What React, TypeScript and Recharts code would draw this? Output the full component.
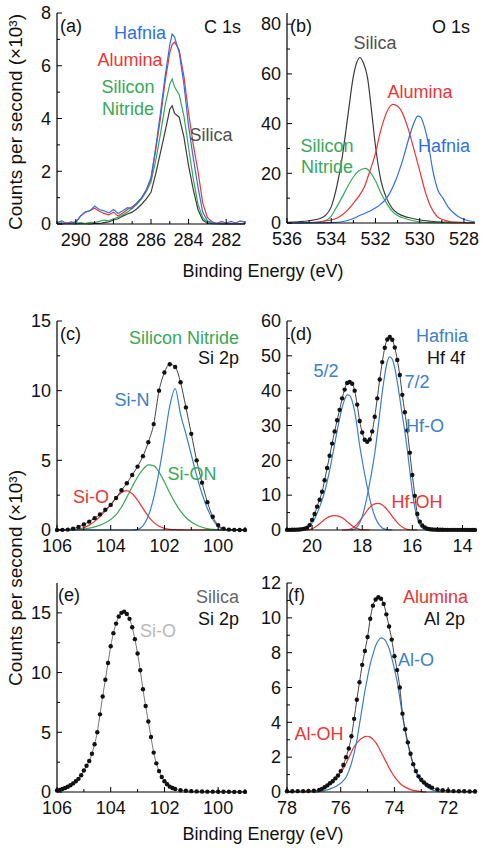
import { LineChart, Line, XAxis, YAxis } from 'recharts';

const FONT = '"Liberation Sans", Arial, Helvetica, sans-serif';
const BLUE = '#2f6fe3';
const FIT_BLUE = '#3b80c6';
const RED = '#eb3434';
const GREEN = '#37a857';
const DARK = '#3c3c3c';

type Pt = [number, number];

// ---- (a) C 1s : raw spectra on a shared energy grid ----
const c1sEnergy = [291, 290.75, 290.5, 290.25, 290, 289.75, 289.5, 289.25, 289, 288.75, 288.5, 288.25, 288, 287.75, 287.5, 287.25, 287, 286.75, 286.5, 286.25, 286, 285.75, 285.5, 285.25, 285, 284.875, 284.75, 284.5, 284.25, 284, 283.75, 283.5, 283.25, 283, 282.75, 282.5, 282.25, 282, 281.75, 281.5, 281.25, 281];
const c1sHafnia = [0.05, 0.12, 0.03, 0.08, 0.05, 0.3, 0.45, 0.5, 0.68, 0.55, 0.5, 0.42, 0.55, 0.4, 0.5, 0.62, 0.58, 0.8, 1.0, 1.3, 1.75, 2.9, 4.2, 5.6, 6.8, 7.2, 7.1, 6.5, 5.3, 3.7, 2.5, 1.4, 0.45, 0.12, 0.05, 0.02, 0.1, 0.03, 0.1, 0.04, 0.12, 0.06];
const c1sAlumina = [0.02, 0.0, 0.03, 0.02, 0.08, 0.3, 0.45, 0.5, 0.6, 0.48, 0.4, 0.35, 0.45, 0.3, 0.42, 0.55, 0.65, 0.8, 0.98, 1.28, 1.7, 2.8, 4.0, 5.4, 6.5, 6.8, 6.9, 6.6, 5.6, 4.2, 3.0, 2.0, 0.8, 0.25, 0.08, 0.03, 0.02, 0.02, 0.01, 0.02, 0.01, 0.02];
const c1sNitride = [0.02, 0.05, 0.02, 0.04, 0.03, 0.05, 0.02, 0.06, 0.05, 0.1, 0.15, 0.12, 0.2, 0.25, 0.35, 0.45, 0.6, 0.75, 0.95, 1.22, 1.6, 2.4, 3.4, 4.5, 5.3, 5.5, 5.2, 4.9, 4.1, 2.9, 1.7, 0.75, 0.25, 0.06, 0.02, 0.01, 0.02, 0.01, 0.02, 0.01, 0.02, 0.01];
const c1sSilica = [0.01, 0.0, 0.02, 0.01, 0.0, 0.02, 0.01, 0.0, 0.02, 0.02, 0.05, 0.08, 0.15, 0.2, 0.3, 0.38, 0.45, 0.58, 0.75, 0.95, 1.2, 1.9, 2.7, 3.5, 4.35, 4.48, 4.2, 4.05, 3.3, 2.2, 1.3, 0.55, 0.15, 0.03, 0.01, 0.01, 0.0, 0.01, 0.0, 0.01, 0.0, 0.01];

// ---- (b) O 1s ----
const o1sSilica: Pt[] = [[536, 0.3], [535.5, 0.5], [535, 0.9], [534.5, 1.8], [534.25, 3.2], [534, 6.5], [533.75, 14.6], [533.5, 26.7], [533.25, 43], [533, 59], [532.85, 64.5], [532.7, 66.6], [532.55, 64.5], [532.35, 58], [532.2, 47], [532, 31], [531.75, 17], [531.5, 10], [531.25, 6], [531, 3.9], [530.5, 2.2], [530, 1.2], [529.5, 0.7], [529, 0.4], [528.5, 0.3], [528, 0.2], [527.5, 0.1]];
const o1sNitride: Pt[] = [[536, 0], [535, 0.1], [534.5, 0.4], [534.2, 1.2], [534, 2.8], [533.75, 6.5], [533.5, 10.5], [533.25, 14.8], [533, 18.5], [532.75, 21], [532.45, 22], [532.2, 20], [532, 17], [531.75, 12], [531.5, 8], [531.25, 4.8], [531, 3], [530.7, 1.9], [530.25, 0.8], [529.8, 0.3], [529, 0.1], [527.5, 0]];
const o1sAlumina: Pt[] = [[536, 0.1], [535, 0.2], [534.5, 0.5], [534, 1.2], [533.75, 1.9], [533.5, 3.3], [533.25, 5.3], [533, 7.9], [532.75, 10.8], [532.5, 14.6], [532.25, 21], [532, 28], [531.8, 36], [531.6, 42], [531.45, 45.4], [531.2, 47.7], [531, 47], [530.85, 45.4], [530.55, 38.7], [530.25, 29.3], [530, 21], [529.75, 12.6], [529.5, 6.5], [529.2, 2.5], [528.9, 1.2], [528.6, 0.5], [528, 0.2], [527.5, 0.1]];
const o1sHafnia: Pt[] = [[536, 0], [535, 0.05], [534, 0.15], [533.5, 0.5], [533, 1.8], [532.67, 3.2], [532.25, 4.8], [531.9, 6.6], [531.45, 10.6], [531.08, 17.3], [530.77, 25.3], [530.47, 34.7], [530.24, 40.7], [530.09, 43], [529.95, 42.5], [529.86, 40.7], [529.64, 33.4], [529.41, 21.3], [529.18, 13.3], [528.95, 10], [528.73, 6.6], [528.4, 3.5], [528.12, 1.9], [527.8, 0.9], [527.5, 0.4]];

// ---- (c) Si 2p, silicon nitride ----
const si3nEnergy = [106, 105.8, 105.6, 105.4, 105.2, 105, 104.8, 104.6, 104.4, 104.2, 104, 103.8, 103.6, 103.4, 103.2, 103, 102.8, 102.6, 102.4, 102.2, 102, 101.8, 101.6, 101.4, 101.2, 101, 100.8, 100.6, 100.4, 100.2, 100, 99.8, 99.6, 99.4, 99.2, 99];
const si3nData = [0, 0.01, 0.03, 0.1, 0.22, 0.4, 0.6, 0.85, 1.12, 1.45, 1.8, 2.3, 2.85, 3.35, 3.95, 4.55, 5.3, 6.3, 7.6, 10.0, 11.3, 11.9, 11.7, 10.6, 8.8, 6.9, 5.0, 3.4, 2.0, 0.95, 0.35, 0.1, 0.03, 0.01, 0, 0];
const si3nSiN = [0, 0, 0, 0, 0, 0, 0, 0, 0, 0, 0, 0, 0, 0, 0, 0.05, 0.3, 1.0, 2.3, 4.2, 6.5, 8.9, 10.15, 8.3, 6.9, 5.4, 3.9, 2.6, 1.55, 0.75, 0.25, 0.06, 0.01, 0, 0, 0];
const si3nSiON = [0, 0, 0.01, 0.02, 0.04, 0.07, 0.13, 0.22, 0.35, 0.52, 0.75, 1.1, 1.65, 2.35, 3.1, 3.8, 4.35, 4.68, 4.62, 4.15, 3.45, 2.65, 1.95, 1.35, 0.9, 0.58, 0.36, 0.2, 0.1, 0.04, 0.01, 0, 0, 0, 0, 0];
const si3nSiO = [0, 0, 0.01, 0.03, 0.07, 0.16, 0.35, 0.62, 0.97, 1.38, 1.82, 2.3, 2.7, 2.82, 2.6, 2.15, 1.55, 0.98, 0.55, 0.27, 0.12, 0.05, 0.02, 0.01, 0, 0, 0, 0, 0, 0, 0, 0, 0, 0, 0, 0];

// ---- (d) Hf 4f, hafnia ----
const hfEnergy = [21, 20.9, 20.8, 20.7, 20.6, 20.5, 20.4, 20.3, 20.2, 20.1, 20, 19.9, 19.8, 19.7, 19.6, 19.5, 19.4, 19.3, 19.2, 19.1, 19, 18.9, 18.8, 18.7, 18.6, 18.5, 18.4, 18.3, 18.2, 18.1, 18, 17.9, 17.8, 17.7, 17.6, 17.5, 17.4, 17.3, 17.2, 17.1, 17, 16.9, 16.8, 16.7, 16.6, 16.5, 16.4, 16.3, 16.2, 16.1, 16, 15.9, 15.8, 15.7, 15.6, 15.5, 15.4, 15.3, 15.2, 15.1, 15, 14.9, 14.8, 14.7, 14.6, 14.5, 14.4, 14.3, 14.2, 14.1, 14, 13.9, 13.8, 13.7, 13.6, 13.5];
const hfData = [0.05, 0.05, 0.06, 0.08, 0.1, 0.15, 0.25, 0.4, 0.65, 1.4, 2.9, 4.6, 6.7, 8.7, 11.0, 14.3, 17.8, 21.3, 24.8, 28.3, 31.5, 34.5, 37.8, 40.3, 42.2, 42.5, 42.0, 40.0, 36.0, 31.3, 28.0, 25.9, 25.3, 26.0, 28.3, 32.5, 37.8, 43.2, 48.2, 52.3, 54.7, 55.4, 54.6, 52.4, 48.8, 44.5, 38.8, 33.8, 28.6, 22.2, 15.8, 9.8, 4.6, 2.4, 1.3, 0.7, 0.38, 0.22, 0.14, 0.1, 0.08, 0.07, 0.06, 0.05, 0.05, 0.05, 0.04, 0.04, 0.04, 0.04, 0.04, 0.04, 0.03, 0.03, 0.03, 0.03];
const hf52: Pt[] = [[20.6, 0], [20.5, 0.05], [20.4, 0.1], [20.3, 0.25], [20.2, 0.55], [20.1, 1.1], [20, 2.0], [19.9, 3.2], [19.8, 4.8], [19.7, 6.6], [19.6, 8.6], [19.5, 10.9], [19.4, 13.8], [19.3, 17.1], [19.2, 20.8], [19.1, 24.6], [19, 28.5], [18.9, 32.0], [18.8, 35.2], [18.7, 37.5], [18.6, 38.8], [18.5, 38.6], [18.4, 37.0], [18.3, 34.0], [18.2, 29.5], [18.1, 24.2], [18, 20.0], [17.9, 16.0], [17.8, 12.4], [17.7, 9.0], [17.6, 6.2], [17.5, 4.0], [17.4, 2.4], [17.3, 1.3], [17.2, 0.6], [17.1, 0.25], [17, 0.08], [16.9, 0.02], [16.8, 0]];
const hf72: Pt[] = [[18.5, 0], [18.4, 0.05], [18.3, 0.3], [18.2, 0.9], [18.1, 2.0], [18, 3.8], [17.9, 6.5], [17.8, 9.8], [17.7, 13.5], [17.6, 17.5], [17.5, 22.0], [17.4, 27.5], [17.3, 33.5], [17.2, 39.5], [17.1, 44.5], [17, 48.3], [16.9, 49.7], [16.8, 49.0], [16.7, 46.5], [16.6, 42.5], [16.5, 37.8], [16.4, 33.0], [16.3, 28.3], [16.2, 23.0], [16.1, 17.0], [16, 11.0], [15.9, 6.5], [15.8, 3.3], [15.7, 1.5], [15.6, 0.6], [15.5, 0.2], [15.4, 0.05], [15.3, 0]];
const hfOH52: Pt[] = [[20.4, 0], [20.2, 0.05], [20.1, 0.15], [20, 0.35], [19.9, 0.7], [19.8, 1.2], [19.7, 1.8], [19.6, 2.4], [19.5, 3.0], [19.4, 3.5], [19.3, 3.85], [19.2, 4.05], [19.1, 4.1], [19, 4.05], [18.9, 3.85], [18.8, 3.5], [18.7, 3.0], [18.6, 2.4], [18.5, 1.8], [18.4, 1.2], [18.3, 0.75], [18.2, 0.4], [18.1, 0.2], [18, 0.08], [17.9, 0.02], [17.7, 0]];
const hfOH72: Pt[] = [[18.8, 0], [18.6, 0.05], [18.5, 0.2], [18.4, 0.5], [18.3, 1.0], [18.2, 1.7], [18.1, 2.6], [18, 3.6], [17.9, 4.6], [17.8, 5.6], [17.7, 6.5], [17.6, 7.1], [17.5, 7.5], [17.4, 7.65], [17.3, 7.55], [17.2, 7.2], [17.1, 6.6], [17, 5.8], [16.9, 4.9], [16.8, 3.9], [16.7, 3.0], [16.6, 2.1], [16.5, 1.4], [16.4, 0.85], [16.3, 0.45], [16.2, 0.2], [16.1, 0.07], [16, 0.02], [15.8, 0]];

// ---- (e) Si 2p, silica ----
const sio2Data: Pt[] = [[106, 0.12], [105.9, 0.18], [105.8, 0.25], [105.7, 0.33], [105.6, 0.44], [105.5, 0.57], [105.4, 0.72], [105.3, 0.9], [105.2, 1.1], [105.1, 1.4], [105, 1.8], [104.9, 2.2], [104.8, 2.6], [104.7, 3.2], [104.6, 4.0], [104.5, 5.0], [104.4, 6.5], [104.3, 8.0], [104.2, 9.4], [104.1, 10.8], [104, 12.2], [103.9, 13.3], [103.8, 14.1], [103.7, 14.7], [103.6, 15.0], [103.5, 15.1], [103.4, 14.9], [103.3, 14.5], [103.2, 13.8], [103.1, 12.8], [103, 11.6], [102.9, 10.2], [102.8, 8.6], [102.7, 7.2], [102.6, 5.9], [102.5, 4.6], [102.4, 3.3], [102.3, 2.4], [102.2, 1.75], [102.1, 1.25], [102, 0.9], [101.9, 0.65], [101.8, 0.45], [101.7, 0.33], [101.6, 0.25], [101.4, 0.15], [101.2, 0.1], [101, 0.07], [100.8, 0.05], [100.6, 0.04], [100.4, 0.03], [100.2, 0.03], [100, 0.02], [99.8, 0.02], [99.6, 0.02], [99.4, 0.01], [99.2, 0.01], [99, 0.01]];

// ---- (f) Al 2p, alumina ----
const al2o3Data: Pt[] = [[78, 0.04], [77.8, 0.04], [77.6, 0.05], [77.4, 0.05], [77.2, 0.06], [77, 0.07], [76.8, 0.12], [76.7, 0.18], [76.6, 0.27], [76.5, 0.38], [76.4, 0.5], [76.3, 0.62], [76.2, 0.78], [76.1, 0.95], [76, 1.2], [75.9, 1.55], [75.8, 2.0], [75.7, 2.5], [75.6, 3.2], [75.5, 4.2], [75.4, 5.3], [75.3, 6.3], [75.2, 7.3], [75.1, 8.1], [75, 8.9], [74.9, 9.95], [74.8, 10.7], [74.7, 11.05], [74.6, 11.18], [74.5, 11.1], [74.4, 10.8], [74.3, 10.2], [74.2, 9.5], [74.1, 8.75], [74, 7.8], [73.9, 7.0], [73.8, 6.0], [73.7, 4.5], [73.6, 3.6], [73.5, 2.85], [73.4, 2.2], [73.3, 1.6], [73.2, 1.2], [73.1, 0.9], [73, 0.7], [72.9, 0.55], [72.8, 0.42], [72.7, 0.33], [72.6, 0.25], [72.4, 0.15], [72.2, 0.1], [72, 0.07], [71.8, 0.05], [71.6, 0.04], [71.4, 0.04], [71.2, 0.03], [71, 0.03]];
const alO: Pt[] = [[77, 0], [76.8, 0.02], [76.7, 0.05], [76.6, 0.08], [76.5, 0.12], [76.4, 0.18], [76.3, 0.24], [76.2, 0.3], [76.1, 0.4], [76, 0.5], [75.9, 0.65], [75.8, 0.85], [75.7, 1.2], [75.6, 1.65], [75.5, 2.25], [75.4, 2.95], [75.3, 3.9], [75.2, 4.85], [75.1, 5.8], [75, 6.6], [74.9, 7.35], [74.8, 7.9], [74.7, 8.4], [74.6, 8.7], [74.5, 8.85], [74.4, 8.8], [74.3, 8.6], [74.2, 8.25], [74.1, 7.7], [74, 7.05], [73.9, 6.35], [73.8, 5.4], [73.7, 4.4], [73.6, 3.5], [73.5, 2.75], [73.4, 2.1], [73.3, 1.6], [73.2, 1.15], [73.1, 0.8], [73, 0.6], [72.9, 0.45], [72.8, 0.3], [72.7, 0.2], [72.6, 0.12], [72.5, 0.07], [72.4, 0.04], [72.2, 0]];
const alOH: Pt[] = [[77.4, 0], [77, 0.05], [76.8, 0.12], [76.6, 0.3], [76.4, 0.5], [76.3, 0.62], [76.2, 0.77], [76.1, 0.93], [76, 1.12], [75.9, 1.35], [75.8, 1.65], [75.7, 1.98], [75.6, 2.3], [75.5, 2.6], [75.4, 2.8], [75.3, 2.98], [75.2, 3.1], [75.1, 3.18], [75, 3.2], [74.9, 3.15], [74.8, 3.02], [74.7, 2.85], [74.6, 2.6], [74.5, 2.3], [74.4, 2.0], [74.3, 1.7], [74.2, 1.4], [74.1, 1.12], [74, 0.88], [73.9, 0.68], [73.8, 0.5], [73.6, 0.28], [73.4, 0.14], [73.2, 0.06], [73, 0.02], [72.8, 0]];

// ---- ticks ----
const c1sMajor = [290, 288, 286, 284, 282];
const c1sMinor = [291, 289, 287, 285, 283, 281];
const o1sMajor = [536, 534, 532, 530, 528];
const o1sMinor = [535, 533, 531, 529];
const si2pMajor = [106, 104, 102, 100];
const si2pMinor = [105, 103, 101, 99];
const hfMajor = [20, 18, 16, 14];
const hfMinor = [21, 19, 17, 15];
const alMajor = [78, 76, 74, 72];
const alMinor = [77, 75, 73, 71];

const yA = [0, 2, 4, 6, 8];
const yAMinor = [1, 3, 5, 7];
const yB = [0, 20, 40, 60, 80];
const yBMinor = [10, 30, 50, 70];
const yC = [0, 5, 10, 15];
const yCMinor = [2.5, 7.5, 12.5];
const yD = [0, 10, 20, 30, 40, 50, 60];
const yDMinor = [5, 15, 25, 35, 45, 55];
const yF = [0, 2, 4, 6, 8, 10, 12];
const yFMinor = [1, 3, 5, 7, 9, 11];

const zip = (xs: number[], ys: number[]) => xs.map((x, i) => ({ x, y: ys[i] }));
const rows = (pts: Pt[]) => pts.map(([x, y]) => ({ x, y }));

type Side = 'bottom' | 'top' | 'left' | 'right';
type TickArgs = { x?: number; y?: number; payload?: { value: number } };

function makeTick(side: Side, majors: number[]) {
  return (p: TickArgs) => {
    const x = p.x ?? 0;
    const y = p.y ?? 0;
    const v = p.payload?.value ?? 0;
    const major = majors.includes(v);
    const len = major ? 5 : 3;
    let l = { x2: x, y2: y };
    if (side === 'bottom') l = { x2: x, y2: y - len };
    if (side === 'top') l = { x2: x, y2: y + len };
    if (side === 'left') l = { x2: x + len, y2: y };
    if (side === 'right') l = { x2: x - len, y2: y };
    return (
      <g>
        <line x1={x} y1={y} x2={l.x2} y2={l.y2} stroke="#000" strokeWidth={1} />
        {major && side === 'bottom' && (
          <text x={x} y={y + 22} textAnchor="middle" fontSize={18} fontFamily={FONT} fill="#111">{v}</text>
        )}
        {major && side === 'left' && (
          <text x={x - 6} y={y + 6.3} textAnchor="end" fontSize={18} fontFamily={FONT} fill="#111">{v}</text>
        )}
      </g>
    );
  };
}

type Series = { id: string; data: { x: number; y: number }[]; color: string; width?: number; dots?: boolean; curve?: 'linear' | 'monotone' };

type PanelProps = {
  left: number; top: number; w: number; h: number;
  xDomain: [number, number]; xMajor: number[]; xMinor: number[];
  yDomain: [number, number]; yMajor: number[]; yMinor: number[];
  series: Series[];
};

const AXIS = { stroke: '#000', strokeWidth: 1.2 };
const PAD_TOP = 12;

function Panel({ left, top, w, h, xDomain, xMajor, xMinor, yDomain, yMajor, yMinor, series }: PanelProps) {
  const xTicks = [...xMajor, ...xMinor];
  const yTicks = [...yMajor, ...yMinor];
  return (
    <div style={{ position: 'absolute', left: left - 50, top: top - PAD_TOP }}>
      <LineChart width={w + 60} height={h + PAD_TOP + 35} margin={{ top: PAD_TOP, right: 10, bottom: 0, left: 0 }}>
        <XAxis xAxisId="b" type="number" dataKey="x" domain={xDomain} reversed ticks={xTicks} interval={0}
          height={35} tickSize={0} tickMargin={0} tickLine={false} axisLine={AXIS} tick={makeTick('bottom', xMajor)} />
        <XAxis xAxisId="t" orientation="top" type="number" dataKey="x" domain={xDomain} reversed ticks={xTicks} interval={0}
          height={0} tickSize={0} tickMargin={0} tickLine={false} axisLine={AXIS} tick={makeTick('top', xMajor)} />
        <YAxis yAxisId="l" type="number" domain={yDomain} ticks={yTicks} interval={0}
          width={50} tickSize={0} tickMargin={0} tickLine={false} axisLine={AXIS} tick={makeTick('left', yMajor)} />
        <YAxis yAxisId="r" orientation="right" type="number" domain={yDomain} ticks={yTicks} interval={0}
          width={0} tickSize={0} tickMargin={0} tickLine={false} axisLine={AXIS} tick={makeTick('right', yMajor)} />
        {series.map((s) => (
          <Line key={s.id} xAxisId="b" yAxisId="l" data={s.data} dataKey="y" type={s.curve ?? 'monotone'}
            stroke={s.color} strokeWidth={s.width ?? 1.2}
            dot={s.dots ? { r: 2.2, fill: '#111', stroke: 'none' } : false}
            activeDot={false} isAnimationActive={false} />
        ))}
      </LineChart>
    </div>
  );
}

const COL1 = 57;
const COL2 = 287;
const PW = 188;
const ROW1 = 13;
const ROW2 = 321;
const ROW3 = 583;

type Note = { t: string; x: number; y: number; c: string; a?: 'start' | 'middle' | 'end' };

const notes: Note[] = [
  { t: '(a)', x: 60, y: 32, c: '#111', a: 'start' },
  { t: 'C 1s', x: 241, y: 33, c: '#111', a: 'end' },
  { t: 'Hafnia', x: 140, y: 39, c: BLUE },
  { t: 'Alumina', x: 130, y: 66, c: RED },
  { t: 'Silicon', x: 128, y: 93, c: GREEN },
  { t: 'Nitride', x: 128, y: 115, c: GREEN },
  { t: 'Silica', x: 211, y: 141, c: '#505050' },
  { t: '(b)', x: 290, y: 32, c: '#111', a: 'start' },
  { t: 'O 1s', x: 470, y: 33, c: '#111', a: 'end' },
  { t: 'Silica', x: 375, y: 49, c: '#505050' },
  { t: 'Alumina', x: 420, y: 98, c: RED },
  { t: 'Hafnia', x: 444, y: 152, c: BLUE },
  { t: 'Silicon', x: 327, y: 152, c: GREEN },
  { t: 'Nitride', x: 327, y: 173, c: GREEN },
  { t: '(c)', x: 60, y: 340, c: '#111', a: 'start' },
  { t: 'Silicon Nitride', x: 239, y: 344, c: GREEN, a: 'end' },
  { t: 'Si 2p', x: 239, y: 364, c: '#111', a: 'end' },
  { t: 'Si-N', x: 132, y: 406, c: FIT_BLUE },
  { t: 'Si-ON', x: 192, y: 480, c: GREEN },
  { t: 'Si-O', x: 91, y: 503, c: RED },
  { t: '(d)', x: 290, y: 340, c: '#111', a: 'start' },
  { t: 'Hafnia', x: 468, y: 342, c: FIT_BLUE, a: 'end' },
  { t: 'Hf 4f', x: 465, y: 364, c: '#111', a: 'end' },
  { t: '5/2', x: 326, y: 377, c: FIT_BLUE },
  { t: '7/2', x: 417, y: 388, c: FIT_BLUE },
  { t: 'Hf-O', x: 425, y: 432, c: FIT_BLUE },
  { t: 'Hf-OH', x: 417, y: 508, c: RED },
  { t: '(e)', x: 58, y: 601, c: '#111', a: 'start' },
  { t: 'Silica', x: 239, y: 603, c: '#666', a: 'end' },
  { t: 'Si 2p', x: 239, y: 625, c: '#111', a: 'end' },
  { t: 'Si-O', x: 158, y: 637, c: '#b8b8b8' },
  { t: '(f)', x: 288, y: 601, c: '#111', a: 'start' },
  { t: 'Alumina', x: 468, y: 603, c: RED, a: 'end' },
  { t: 'Al 2p', x: 465, y: 625, c: '#111', a: 'end' },
  { t: 'Al-O', x: 416, y: 666, c: FIT_BLUE },
  { t: 'Al-OH', x: 319, y: 740, c: RED },
];

export default function App() {
  return (
    <div style={{ position: 'absolute', left: 0, top: 0, width: 483, height: 853, background: '#fff', overflow: 'hidden' }}>
      <Panel left={COL1} top={ROW1} w={PW} h={211} xDomain={[281, 291]} xMajor={c1sMajor} xMinor={c1sMinor}
        yDomain={[0, 8]} yMajor={yA} yMinor={yAMinor}
        series={[
          { id: 'si', data: zip(c1sEnergy, c1sSilica), color: DARK, curve: 'linear' },
          { id: 'sn', data: zip(c1sEnergy, c1sNitride), color: GREEN, curve: 'linear' },
          { id: 'al', data: zip(c1sEnergy, c1sAlumina), color: RED, curve: 'linear' },
          { id: 'hf', data: zip(c1sEnergy, c1sHafnia), color: BLUE, curve: 'linear' },
        ]} />
      <Panel left={COL2} top={ROW1} w={PW} h={210} xDomain={[527.5, 536]} xMajor={o1sMajor} xMinor={o1sMinor}
        yDomain={[0, 84.5]} yMajor={yB} yMinor={yBMinor}
        series={[
          { id: 'si', data: rows(o1sSilica), color: DARK },
          { id: 'sn', data: rows(o1sNitride), color: GREEN },
          { id: 'al', data: rows(o1sAlumina), color: RED },
          { id: 'hf', data: rows(o1sHafnia), color: BLUE },
        ]} />
      <Panel left={COL1} top={ROW2} w={PW} h={209} xDomain={[99, 106]} xMajor={si2pMajor} xMinor={si2pMinor}
        yDomain={[0, 15]} yMajor={yC} yMinor={yCMinor}
        series={[
          { id: 'sio', data: zip(si3nEnergy, si3nSiO), color: RED },
          { id: 'sion', data: zip(si3nEnergy, si3nSiON), color: GREEN },
          { id: 'sin', data: zip(si3nEnergy, si3nSiN), color: FIT_BLUE },
          { id: 'data', data: zip(si3nEnergy, si3nData), color: '#444', width: 1, dots: true },
        ]} />
      <Panel left={COL2} top={ROW2} w={PW} h={209} xDomain={[13.5, 21]} xMajor={hfMajor} xMinor={hfMinor}
        yDomain={[0, 60]} yMajor={yD} yMinor={yDMinor}
        series={[
          { id: 'oh52', data: rows(hfOH52), color: RED },
          { id: 'oh72', data: rows(hfOH72), color: RED },
          { id: 'o52', data: rows(hf52), color: FIT_BLUE },
          { id: 'o72', data: rows(hf72), color: FIT_BLUE },
          { id: 'data', data: zip(hfEnergy, hfData), color: '#444', width: 1, dots: true },
        ]} />
      <Panel left={COL1} top={ROW3} w={PW} h={209} xDomain={[99, 106]} xMajor={si2pMajor} xMinor={si2pMinor}
        yDomain={[0, 17.5]} yMajor={yC} yMinor={yCMinor}
        series={[
          { id: 'data', data: rows(sio2Data), color: '#777', width: 1, dots: true },
        ]} />
      <Panel left={COL2} top={ROW3} w={PW} h={209} xDomain={[71, 78]} xMajor={alMajor} xMinor={alMinor}
        yDomain={[0, 12]} yMajor={yF} yMinor={yFMinor}
        series={[
          { id: 'aloh', data: rows(alOH), color: RED },
          { id: 'alo', data: rows(alO), color: FIT_BLUE },
          { id: 'data', data: rows(al2o3Data), color: '#444', width: 1, dots: true },
        ]} />
      <svg width={483} height={853} style={{ position: 'absolute', left: 0, top: 0, pointerEvents: 'none' }}>
        <g fontFamily={FONT} fontSize={18}>
          {notes.map((n, i) => (
            <text key={i} x={n.x} y={n.y} fill={n.c} textAnchor={n.a ?? 'middle'}>{n.t}</text>
          ))}
          <text x={263} y={277} textAnchor="middle" fill="#111">Binding Energy (eV)</text>
          <text x={263} y={840} textAnchor="middle" fill="#111">Binding Energy (eV)</text>
          <text x={22} y={122} transform="rotate(-90 22 122)" textAnchor="middle" fill="#111" fontSize={19}>Counts per second (×10³)</text>
          <text x={22} y={578} transform="rotate(-90 22 578)" textAnchor="middle" fill="#111" fontSize={19}>Counts per second (×10³)</text>
        </g>
      </svg>
    </div>
  );
}
